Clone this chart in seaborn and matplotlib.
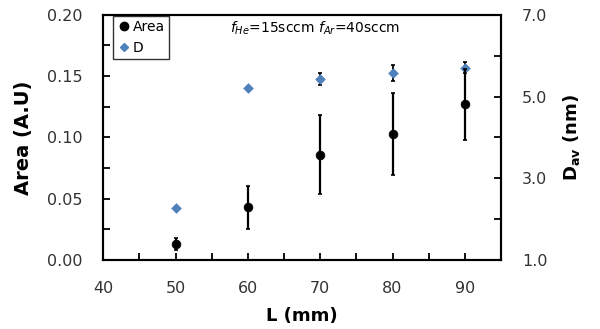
import numpy as np
import pandas as pd
import seaborn as sns
import matplotlib.pyplot as plt
from matplotlib.ticker import MultipleLocator
from matplotlib.lines import Line2D

# data
L_mm = [50, 60, 70, 80, 90]
area = [0.013, 0.043, 0.086, 0.103, 0.127]
area_err = [0.005, 0.0175, 0.032, 0.0335, 0.029]
d_av = [2.27, 5.2, 5.43, 5.57, 5.71]
d_err = [0.0, 0.0, 0.14, 0.19, 0.13]

df = pd.DataFrame({"L": L_mm, "Area": area, "AreaErr": area_err, "D": d_av, "DErr": d_err})

sns.set_style("ticks")
plt.rcParams["font.family"] = ["DejaVu Sans"]

fig = plt.figure(figsize=(6, 3.29), dpi=100)
ax = fig.add_axes([0.172, 0.21, 0.663, 0.745])
ax2 = ax.twinx()

# D on the right axis
ax2.errorbar(df.L, df.D, yerr=df.DErr, fmt="none", ecolor="black", elinewidth=1.3, capsize=1.5, capthick=1.2, zorder=2)
sns.scatterplot(data=df, x="L", y="D", ax=ax2, marker="D", color="#4f81bd", s=25, edgecolor="#4f81bd", zorder=3)

# Area on the left axis
ax.errorbar(df.L, df.Area, yerr=df.AreaErr, fmt="none", ecolor="black", elinewidth=1.6, capsize=1.5, capthick=1.2, zorder=2)
sns.scatterplot(data=df, x="L", y="Area", ax=ax, marker="o", color="black", s=40, edgecolor="black", zorder=3)

ax.set_xlim(40, 95)
ax.set_ylim(0, 0.2)
ax2.set_ylim(1.0, 7.0)

ax.set_xticks([40, 50, 60, 70, 80, 90])
ax.xaxis.set_minor_locator(MultipleLocator(5))
ax.yaxis.set_major_locator(MultipleLocator(0.05))
ax.yaxis.set_minor_locator(MultipleLocator(0.025))
ax2.set_yticks([1.0, 3.0, 5.0, 7.0])
ax2.set_yticks([2.0, 4.0, 6.0], minor=True)
ax.yaxis.set_major_formatter(plt.FormatStrFormatter("%.2f"))
ax2.yaxis.set_major_formatter(plt.FormatStrFormatter("%.1f"))

for a in (ax, ax2):
    for s in a.spines.values():
        s.set_linewidth(1.5)
        s.set_color("black")
    a.tick_params(which="both", direction="in", width=1.3, length=5, labelsize=11.5,
                  labelcolor="#333333", color="black", pad=15)
ax.tick_params(axis="x", pad=15)

ax.set_xlabel("L (mm)", fontsize=13, fontweight="bold", labelpad=8, color="black")
ax.set_ylabel("Area (A.U)", fontsize=14, fontweight="bold", labelpad=10, color="black")
ax2.set_ylabel(r"D$_{\mathbf{av}}$ (nm)", fontsize=13, fontweight="bold", labelpad=10, color="black")

ax.text(0.32, 0.945, r"$f_{He}$=15sccm $f_{Ar}$=40sccm", transform=ax.transAxes,
        fontsize=10, va="center", ha="left", color="black")

handles = [Line2D([], [], marker="o", color="black", linestyle="none", markersize=6),
           Line2D([], [], marker="D", color="#4f81bd", linestyle="none", markersize=4.5)]
leg = ax.legend(handles, ["Area", "D"], loc="upper left", bbox_to_anchor=(0.025, 0.995),
                fontsize=10, frameon=True, fancybox=False, edgecolor="black",
                handletextpad=0.1, handlelength=1.0, borderpad=0.3, labelspacing=0.5,
                borderaxespad=0.0)
leg.get_frame().set_linewidth(1.0)
for t in leg.get_texts():
    t.set_color("black")
ax.set_zorder(ax2.get_zorder() + 1)
ax.patch.set_visible(False)

fig.savefig("out.png", dpi=100)
